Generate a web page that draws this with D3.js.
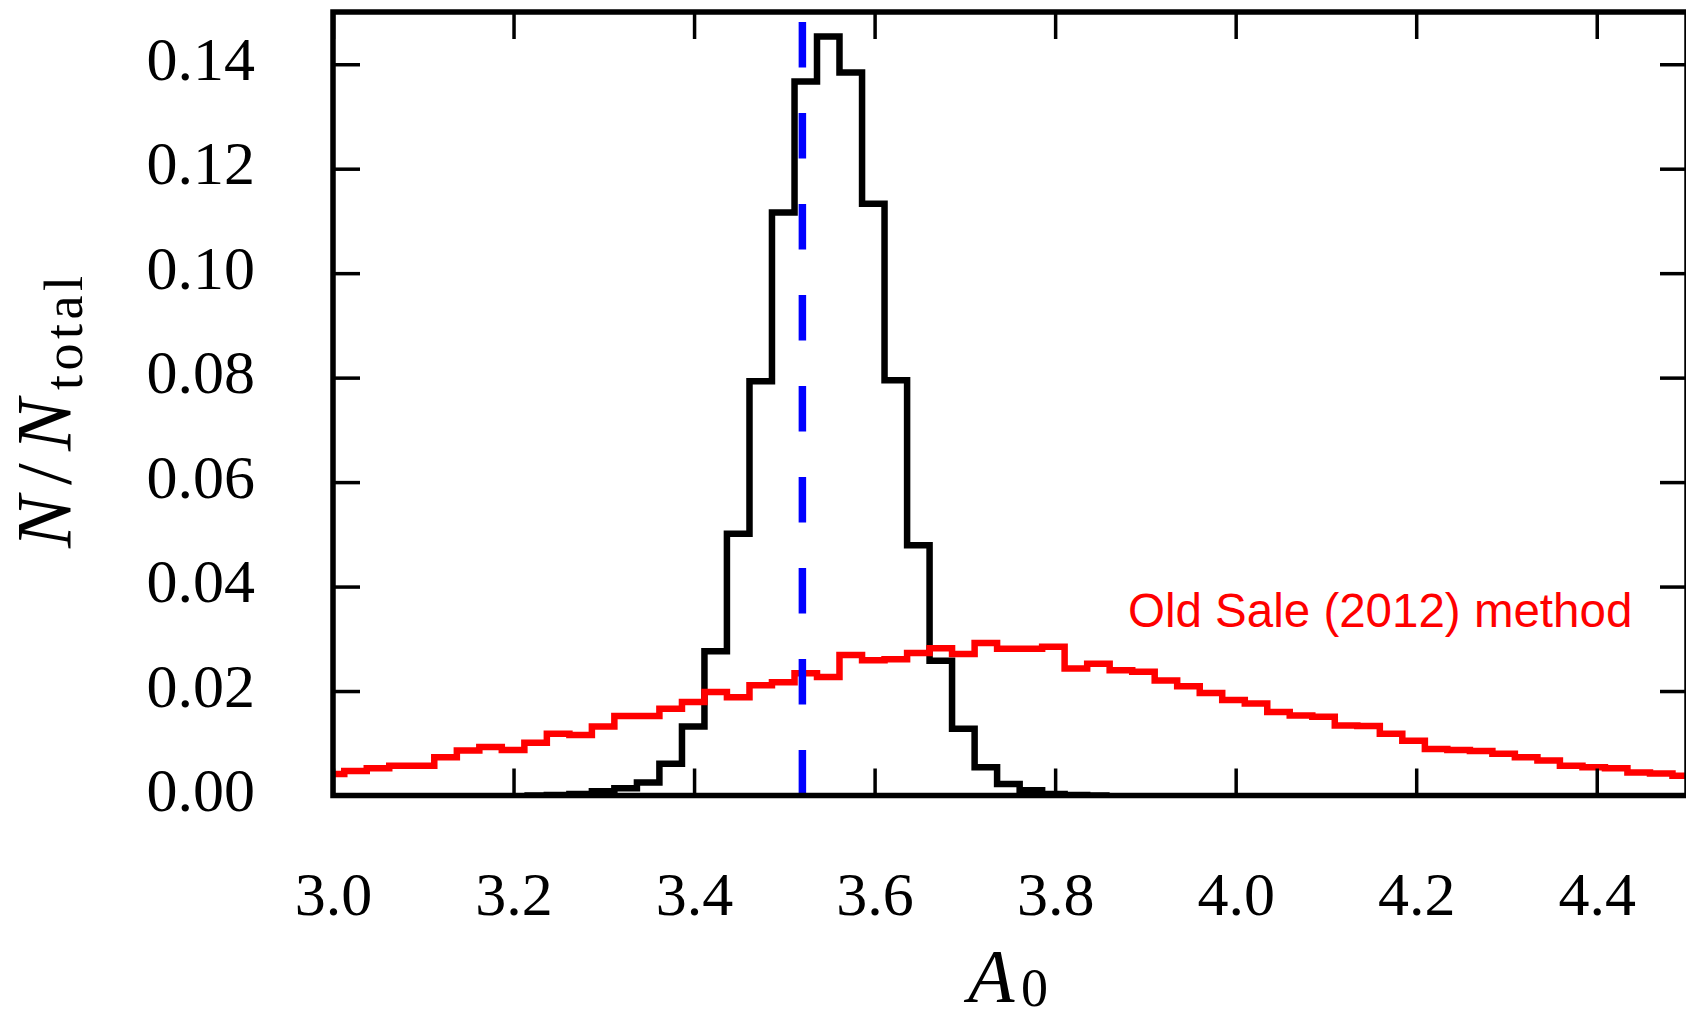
<!DOCTYPE html>
<html><head><meta charset="utf-8">
<script src="https://cdn.jsdelivr.net/npm/d3@7"></script>
<style>html,body{margin:0;padding:0;background:#fff;} svg{display:block;}</style>
</head><body>
<svg id="chart" width="1686" height="1020"></svg>
<script>
// ---- data ----
// shared histogram bin edges (A0)
const binEdges = [2.9875,3.0125,3.0374,3.0623,3.0873,3.1122,3.1372,3.1621,3.1870,3.2120,
  3.2369,3.2619,3.2868,3.3117,3.3367,3.3616,3.3866,3.4115,3.4364,3.4614,
  3.4863,3.5113,3.5362,3.5611,3.5861,3.6110,3.6360,3.6609,3.6858,3.7108,
  3.7357,3.7607,3.7856,3.8105,3.8355,3.8604,3.8854,3.9103,3.9352,3.9602,
  3.9851,4.0101,4.0350,4.0599,4.0849,4.1098,4.1348,4.1597,4.1846,4.2096,
  4.2345,4.2595,4.2844,4.3093,4.3343,4.3592,4.3842,4.4091,4.4340,4.4590,
  4.4839,4.5089,4.5338];
// red: "Old Sale (2012) method", one value per bin starting at binEdges[0]
const redValues = [0.0041,0.0047,0.0052,0.0057,0.0057,0.0073,0.0086,0.0093,0.0087,0.0101,
  0.0118,0.0116,0.0132,0.0152,0.0152,0.0166,0.0179,0.0198,0.0188,0.0211,
  0.0217,0.0234,0.0227,0.0269,0.0259,0.0261,0.0273,0.0282,0.0271,0.0292,
  0.0281,0.0281,0.0285,0.0243,0.0252,0.0240,0.0237,0.0220,0.0209,0.0196,
  0.0183,0.0176,0.0160,0.0153,0.0151,0.0134,0.0133,0.0118,0.0105,0.0089,
  0.0087,0.0085,0.0080,0.0073,0.0067,0.0057,0.0054,0.0052,0.0044,0.0042,
  0.0038,0.0035];
// black: new method, bins starting at binEdges[blackFirstBin]
const blackFirstBin = 9;
const blackValues = [0.0000,0.0001,0.0003,0.0008,0.0014,0.0025,0.0061,0.0132,0.0276,0.0501,
  0.0793,0.1116,0.1367,0.1453,0.1384,0.1133,0.0795,0.0479,0.0258,0.0128,
  0.0054,0.0022,0.0010,0.0003,0.0001,0.0000];
const medianA0 = 3.52;
const xDomain = [3.0, 4.5];
const yDomain = [0, 0.15];
const xTickValues = [3.0,3.2,3.4,3.6,3.8,4.0,4.2,4.4];
const yTickValues = [0.00,0.02,0.04,0.06,0.08,0.10,0.12,0.14];
const annotation = "Old Sale (2012) method";

// ---- drawing ----
const W = 1686, H = 1020;
const m = {left: 333, top: 12, right: 1687, bottom: 795.5};
const serif = "'Liberation Serif','Times New Roman',serif";
const sans = "'Liberation Sans',Arial,sans-serif";
const x = d3.scaleLinear().domain(xDomain).range([m.left, m.right]);
const y = d3.scaleLinear().domain(yDomain).range([m.bottom, m.top]);
const svg = d3.select("#chart");
svg.append("rect").attr("width", W).attr("height", H).attr("fill", "#fff");
svg.append("defs").append("clipPath").attr("id", "clip").append("rect")
  .attr("x", m.left).attr("y", m.top).attr("width", m.right - m.left).attr("height", m.bottom - m.top);

function stepPoints(edges, values) {
  const pts = [[edges[0], 0]];
  values.forEach((v, i) => pts.push([edges[i], v]));
  pts.push([edges[values.length], 0]);
  return pts;
}
const line = d3.line().x(d => x(d[0])).y(d => y(d[1])).curve(d3.curveStepAfter);
const plot = svg.append("g").attr("clip-path", "url(#clip)");
const blackEdges = binEdges.slice(blackFirstBin, blackFirstBin + blackValues.length + 1);
plot.append("path").attr("d", line(stepPoints(blackEdges, blackValues)))
  .attr("fill", "none").attr("stroke", "#000").attr("stroke-width", 6.5).attr("stroke-linejoin", "miter");
plot.append("path").attr("d", line(stepPoints(binEdges, redValues)))
  .attr("fill", "none").attr("stroke", "#ff0000").attr("stroke-width", 6.5).attr("stroke-linejoin", "miter");
plot.append("line")
  .attr("x1", x(medianA0)).attr("x2", x(medianA0)).attr("y1", y(yDomain[0])).attr("y2", y(yDomain[1]))
  .attr("stroke", "#0000ff").attr("stroke-width", 7.5).attr("stroke-dasharray", "45.5 45.5");

// axes
function styleTicks(g) {
  g.select(".domain").remove();
  g.selectAll(".tick line").attr("stroke", "#000").attr("stroke-width", 3.5);
  g.attr("font-family", serif).attr("font-size", 62);
}
const gB = svg.append("g").attr("transform", `translate(0,${m.bottom})`)
  .call(d3.axisBottom(x).tickValues(xTickValues).tickSizeInner(-27).tickSizeOuter(0).tickFormat(d3.format(".1f")));
styleTicks(gB);
gB.selectAll(".tick text").attr("y", 119.5).attr("dy", null).attr("fill", "#000");
const gT = svg.append("g").attr("transform", `translate(0,${m.top})`)
  .call(d3.axisTop(x).tickValues(xTickValues).tickSizeInner(-27).tickSizeOuter(0).tickFormat(""));
styleTicks(gT);
const gL = svg.append("g").attr("transform", `translate(${m.left},0)`)
  .call(d3.axisLeft(y).tickValues(yTickValues).tickSizeInner(-27).tickSizeOuter(0).tickFormat(d3.format(".2f")));
styleTicks(gL);
gL.selectAll(".tick text").attr("x", -78).attr("y", 15).attr("dy", null).attr("text-anchor", "end").attr("fill", "#000");
const gR = svg.append("g").attr("transform", `translate(${m.right},0)`)
  .call(d3.axisRight(y).tickValues(yTickValues).tickSizeInner(-27).tickSizeOuter(0).tickFormat(""));
styleTicks(gR);

// spines
svg.append("rect").attr("x", m.left).attr("y", m.top).attr("width", m.right - m.left).attr("height", m.bottom - m.top)
  .attr("fill", "none").attr("stroke", "#000").attr("stroke-width", 5.5);

// y label  N/N_total
const yl = svg.append("g").attr("transform", "translate(70,548) rotate(-90)").attr("font-family", serif).attr("fill", "#000");
yl.append("text").attr("x", 0).attr("y", 0).attr("font-size", 78).attr("font-style", "italic").text("N");
yl.append("text").attr("x", 63).attr("y", 0).attr("font-size", 78).text("/");
yl.append("text").attr("x", 97).attr("y", 0).attr("font-size", 78).attr("font-style", "italic").text("N");
yl.append("text").attr("x", 158).attr("y", 12).attr("font-size", 54).attr("letter-spacing", 4.5).text("total");

// x label  A_0
const xl = svg.append("g").attr("font-family", serif).attr("fill", "#000");
xl.append("text").attr("x", 968).attr("y", 1002).attr("font-size", 76).attr("font-style", "italic").text("A");
xl.append("text").attr("x", 1021).attr("y", 1006).attr("font-size", 54).text("0");

// annotation
svg.append("text").attr("x", 1128).attr("y", 627).attr("font-family", sans).attr("font-size", 47.5)
  .attr("fill", "#ff0000").text(annotation);
</script>
</body></html>
